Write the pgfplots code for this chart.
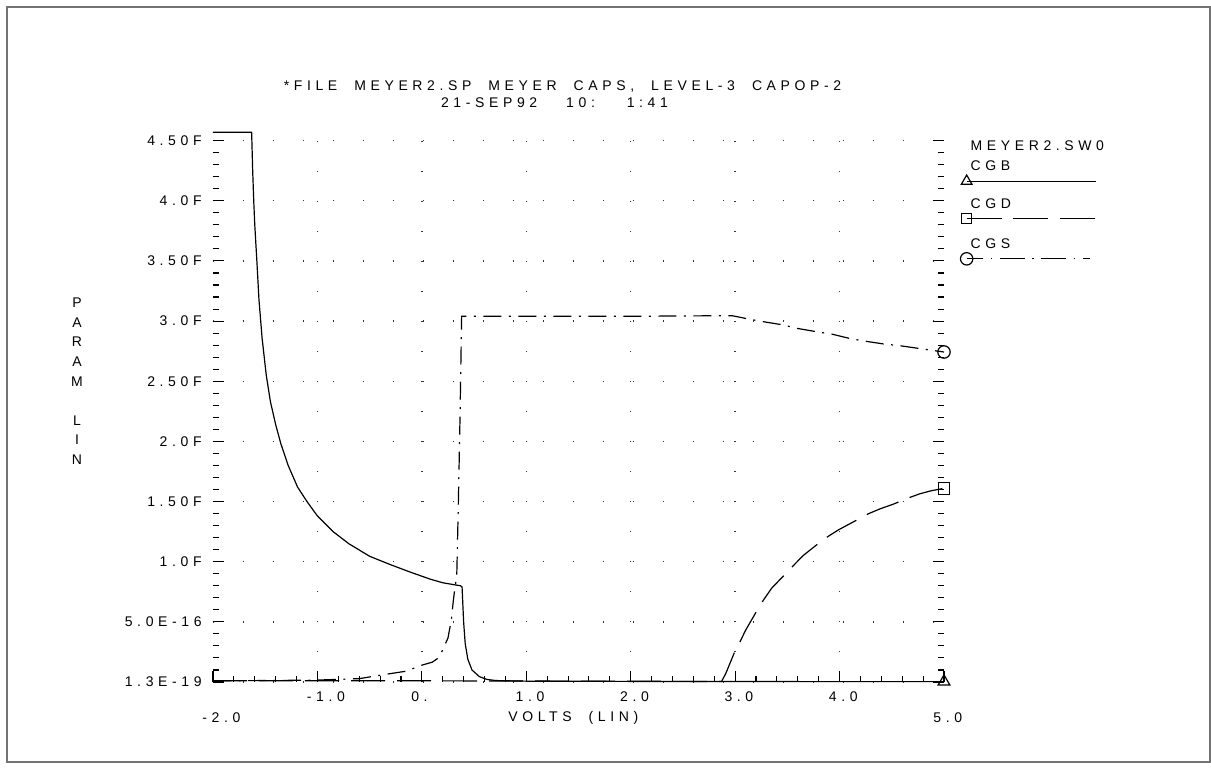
\documentclass[border=0pt]{standalone}
\usepackage{fontspec}
\usepackage{pgfplots}
\pgfplotsset{compat=1.18}
\newfontfamily\plotfont[LetterSpace=33, WordSpace=2.0]{Liberation Sans}
\newcommand\pf{\plotfont\fontsize{7pt}{8.4pt}\selectfont}

\begin{document}
\begin{tikzpicture}
\begin{axis}[
  at={(106.5pt,43pt)}, anchor=south west,
  scale only axis, width=365.5pt, height=274.9pt,
  xmin=-2, xmax=5, ymin=0, ymax=4.57,
  clip=false,
  axis line style={draw=none},
  xtick={-1,0,1,2,3,4},
  xticklabels={-1.0,0.,1.0,2.0,3.0,4.0},
  extra x ticks={-2,5},
  extra x tick labels={-2.0,5.0},
  extra x tick style={grid=none, xticklabel style={yshift=-10.5pt}},
  minor xtick={-2,-1.8,...,5},
  xtick pos=left,
  ytick={0,0.5,...,4.5},
  yticklabels={1.3E-19,5.0E-16,1.0F,1.50F,2.0F,2.50F,3.0F,3.50F,4.0F,4.50F},
  minor ytick={0,0.1,...,4.55},
  ytick pos=both,
  tick align=inside,
  major tick length=5.5pt, minor tick length=2.8pt,
  tick style={black, line width=0.55pt},
  grid=major,
  major grid style={black!80, line width=0.7pt, dash pattern=on 0.7pt off 14.3pt},
  xticklabel style={font=\pf, anchor=west, inner sep=0pt, xshift=-5.5pt, yshift=-7.5pt},
  yticklabel style={font=\pf, anchor=east, inner sep=0pt, xshift=-5.5pt},
  legend style={at={(1.031,0.9858)}, anchor=north west, draw=none, fill=none,
    inner sep=0pt, outer sep=0pt, row sep=5.35pt, column sep=2pt, font=\pf,
    nodes={inner sep=0pt, outer sep=0pt, text height=5pt, text depth=0pt}},
  legend cell align=left,
]
\addlegendimage{empty legend}
\addlegendentry{MEYER2.SW0}

% CGB
\addplot[black, line width=0.6pt, solid, mark=triangle, mark size=3.4pt, mark indices={38},
  mark options={solid},
  legend image code/.code={
    \begin{pgfinterruptboundingbox}
      \draw[black, solid, line width=0.6pt] (0pt,-7.75pt) -- (64.7pt,-7.75pt);
      \begin{scope}[shift={(0pt,-7.75pt)}]
        \pgfsetdash{}{0pt}\pgfsetlinewidth{0.6pt}\pgfsetplotmarksize{3.1pt}
        \pgfuseplotmark{triangle}
      \end{scope}
    \end{pgfinterruptboundingbox}
    \path[draw=none] (0pt,-10.8pt) -- (0pt,2.5pt);
  }] coordinates {
  (-2.0,4.57) (-1.63,4.57) (-1.62,4.25) (-1.61,4.00) (-1.60,3.80) (-1.58,3.50)
  (-1.56,3.18) (-1.53,2.86) (-1.49,2.55) (-1.45,2.33) (-1.40,2.14) (-1.35,1.98)
  (-1.28,1.80) (-1.19,1.62) (-1.10,1.50) (-1.00,1.38) (-0.85,1.25) (-0.70,1.15)
  (-0.50,1.045) (-0.30,0.975) (-0.10,0.91) (0.08,0.855) (0.20,0.825) (0.30,0.81)
  (0.37,0.80) (0.385,0.79) (0.40,0.50) (0.415,0.32) (0.44,0.19) (0.48,0.10)
  (0.55,0.045) (0.62,0.022) (0.71,0.012) (1.0,0.007) (2.0,0.005) (3.0,0.004)
  (4.0,0.003) (5.0,0.003)
};
\addlegendentry{CGB}

% CGD
\addplot[black, line width=0.6pt, dash pattern=on 17pt off 6pt, mark=square, mark size=2.9pt,
  mark indices={28}, mark options={solid},
  legend image code/.code={
    \begin{pgfinterruptboundingbox}
      \draw[black, line width=0.6pt, dash pattern=on 17.5pt off 5.75pt] (0pt,-7.75pt) -- (64pt,-7.75pt);
      \begin{scope}[shift={(0pt,-7.75pt)}]
        \pgfsetdash{}{0pt}\pgfsetlinewidth{0.6pt}\pgfsetplotmarksize{2.6pt}
        \pgfuseplotmark{square}
      \end{scope}
    \end{pgfinterruptboundingbox}
    \path[draw=none] (0pt,-12.3pt) -- (0pt,2.5pt);
  }] coordinates {
  (-2.0,0.01) (-1.0,0.01) (0.0,0.01) (1.0,0.008) (2.0,0.006) (2.6,0.005) (2.87,0.005)
  (2.91,0.07) (3.00,0.26) (3.05,0.34) (3.10,0.43) (3.20,0.58) (3.27,0.68) (3.35,0.78)
  (3.45,0.87) (3.56,0.97) (3.65,1.05) (3.78,1.14) (3.89,1.21) (3.99,1.265) (4.13,1.33)
  (4.28,1.40) (4.39,1.44) (4.52,1.48) (4.66,1.53) (4.77,1.565) (4.88,1.59) (5.0,1.61)
};
\addlegendentry{CGD}

% CGS
\addplot[black, line width=0.6pt, dash pattern=on 9pt off 3.75pt on 1pt off 3.75pt,
  mark=o, mark size=3.1pt, mark indices={34}, mark options={solid},
  legend image code/.code={
    \begin{pgfinterruptboundingbox}
      \draw[black, line width=0.6pt, dash pattern=on 12.3pt off 3.8pt on 0.8pt off 3.8pt, dash phase=4pt] (0pt,-7.75pt) -- (61.7pt,-7.75pt);
      \begin{scope}[shift={(0pt,-7.75pt)}]
        \pgfsetdash{}{0pt}\pgfsetlinewidth{0.6pt}\pgfsetplotmarksize{3.1pt}
        \pgfuseplotmark{o}
      \end{scope}
    \end{pgfinterruptboundingbox}
    \path[draw=none] (0pt,-10pt) -- (0pt,2.5pt);
  }] coordinates {
  (-2.0,0.01) (-1.5,0.012) (-1.0,0.016) (-0.6,0.028) (-0.3,0.07) (-0.15,0.09)
  (0.0,0.14) (0.10,0.165) (0.15,0.195) (0.19,0.25) (0.25,0.365) (0.283,0.52)
  (0.30,0.665) (0.316,0.78) (0.334,0.875) (0.349,1.46) (0.365,2.18) (0.381,3.04)
  (1.0,3.04) (2.0,3.04) (2.97,3.045) (3.13,3.017) (3.27,2.995) (3.46,2.968)
  (3.59,2.94) (3.81,2.907) (3.92,2.893) (4.10,2.855) (4.23,2.835) (4.42,2.81)
  (4.58,2.795) (4.74,2.775) (4.90,2.755) (5.0,2.743)
};
\addlegendentry{CGS}

\node[font=\pf] at (axis cs:1.347,4.946) {*FILE MEYER2.SP MEYER CAPS, LEVEL-3 CAPOP-2};
\node[font=\pf] at (axis cs:1.270,4.813) {21-SEP92\hspace{6pt} 10:\hspace{6pt} 1:41};
\node[font=\pf, yshift=-18pt] at (axis cs:1.45,0) {VOLTS (LIN)};
\node[font={\plotfont\fontsize{7pt}{9.8pt}\selectfont}, align=center, inner sep=0pt]
  at (axis cs:-3.302,2.499) {P\\A\\R\\A\\M\\\mbox{}\\L\\I\\N};
\end{axis}
\draw[black!55, line width=1pt] (3.5pt,3pt) rectangle (605pt,380.5pt);
\pgfresetboundingbox
\path (0,0) rectangle (605.5pt,384pt);
\end{tikzpicture}
\end{document}
